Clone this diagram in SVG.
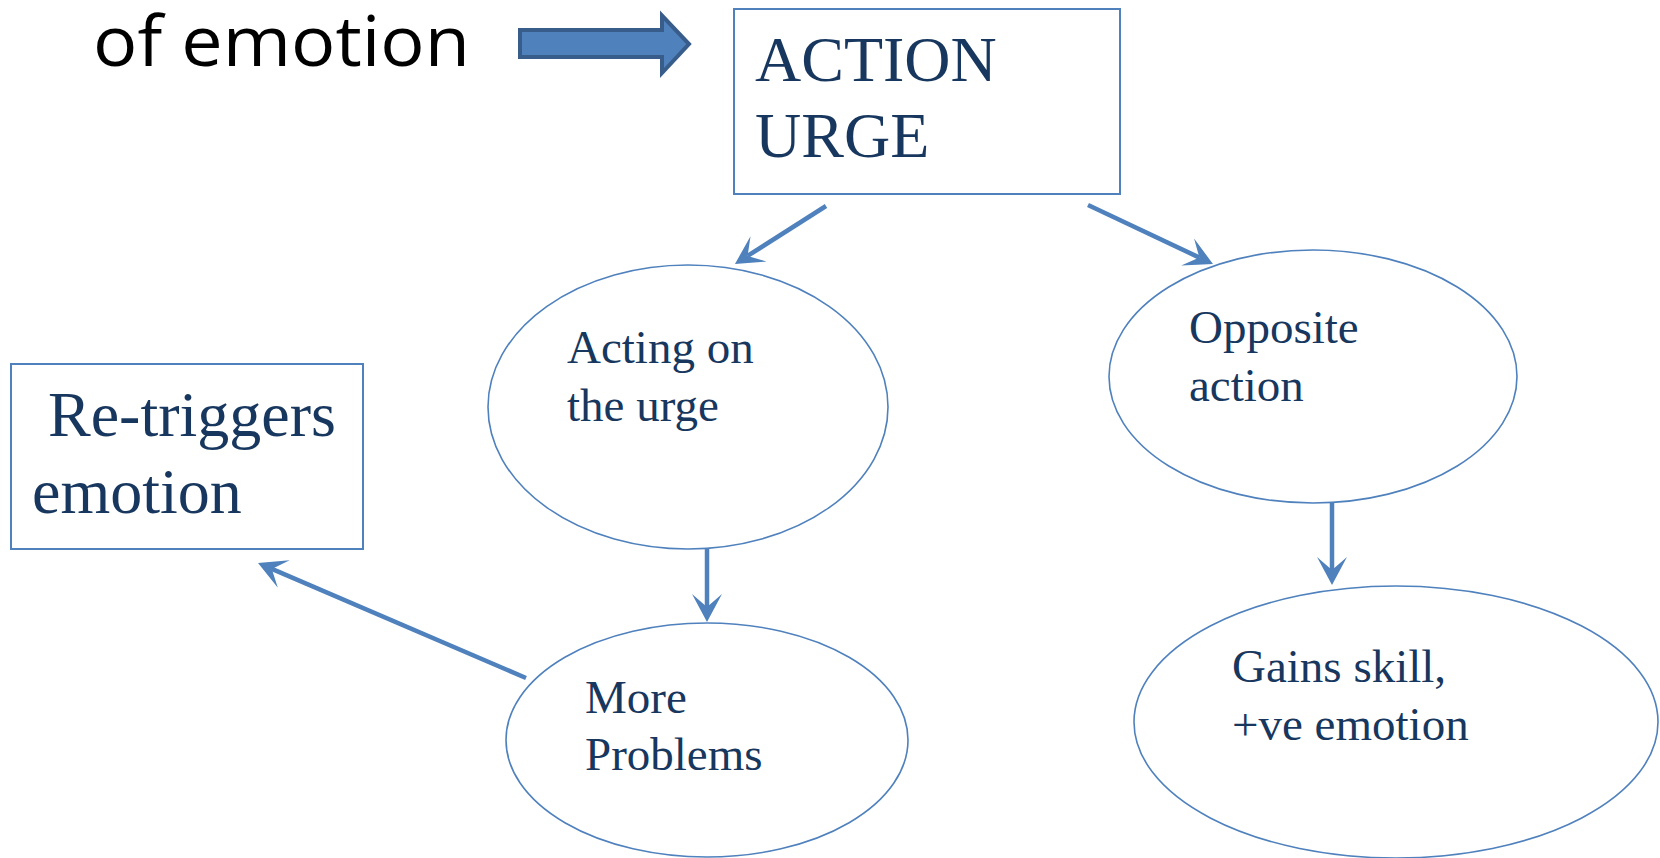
<svg xmlns="http://www.w3.org/2000/svg" width="1660" height="858" viewBox="0 0 1660 858">
  <style>
    .box { fill: #ffffff; stroke: #4f81bd; stroke-width: 2; }
    .oval { fill: #ffffff; stroke: #4f81bd; stroke-width: 1.6; }
    .big { font-family: "Liberation Serif", "Times New Roman", serif; font-size: 64px; fill: #17375e; }
    .mid { font-family: "Liberation Serif", "Times New Roman", serif; font-size: 47px; fill: #17375e; }
    .title { font-family: "Open Sans", "Liberation Sans", sans-serif; font-size: 70px; fill: #000000; }
    .link { stroke: #4f81bd; stroke-width: 4.5; fill: none; marker-end: url(#head); }
  </style>
  <defs>
    <marker id="head" markerUnits="userSpaceOnUse" viewBox="0 -15 28 30" markerWidth="28" markerHeight="30" refX="13" refY="0" orient="auto">
      <path d="M0,-15 L28,0 L0,15 L13,0 Z" fill="#4f81bd"/>
    </marker>
  </defs>

  <rect width="1660" height="858" fill="#ffffff"/>

  <!-- heading fragment with block arrow -->
  <g id="heading">
    <text class="title" x="93" y="66" textLength="377" lengthAdjust="spacingAndGlyphs">of emotion</text>
    <path d="M520,30 H662 V15.5 L689,44 L662,73 V57 H520 Z" fill="#4f81bd" stroke="#385d8a" stroke-width="4" stroke-linejoin="miter"/>
  </g>

  <g id="action-urge">
    <rect class="box" x="734" y="9" width="386" height="185"/>
    <text class="big" x="755" y="81">ACTION</text>
    <text class="big" x="755" y="157">URGE</text>
  </g>

  <g id="acting-on-urge">
    <ellipse class="oval" cx="688" cy="407" rx="200" ry="142"/>
    <text class="mid" x="567" y="363">Acting on</text>
    <text class="mid" x="567" y="421">the urge</text>
  </g>

  <g id="more-problems">
    <ellipse class="oval" cx="707" cy="740" rx="201" ry="117"/>
    <text class="mid" x="585" y="713">More</text>
    <text class="mid" x="585" y="770">Problems</text>
  </g>

  <g id="re-triggers">
    <rect class="box" x="11" y="364" width="352" height="185"/>
    <text class="big" x="48" y="436">Re-triggers</text>
    <text class="big" x="32" y="513">emotion</text>
  </g>

  <g id="opposite-action">
    <ellipse class="oval" cx="1313" cy="376.5" rx="204" ry="126.5"/>
    <text class="mid" x="1189" y="343">Opposite</text>
    <text class="mid" x="1189" y="401">action</text>
  </g>

  <g id="gains-skill">
    <ellipse class="oval" cx="1396" cy="722" rx="262" ry="136"/>
    <text class="mid" x="1232" y="682">Gains skill,</text>
    <text class="mid" x="1232" y="740">+ve emotion</text>
  </g>

  <!-- connectors -->
  <g id="connectors">
    <line class="link" x1="826" y1="206" x2="747.6" y2="255.9"/>
    <line class="link" x1="1088" y1="205" x2="1199.4" y2="257.6"/>
    <line class="link" x1="707" y1="549" x2="707" y2="607"/>
    <line class="link" x1="1332" y1="503" x2="1332" y2="570"/>
    <line class="link" x1="526" y1="678" x2="271.8" y2="568.9"/>
  </g>
</svg>
